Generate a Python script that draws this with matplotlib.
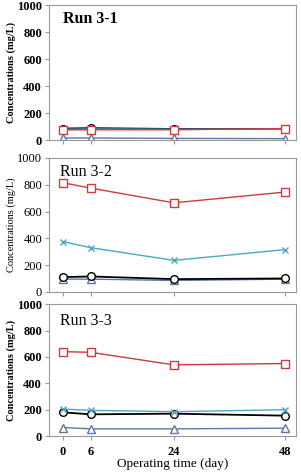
import numpy as np
from matplotlib import pyplot as plt

days = [0, 6, 24, 48]

# Run 3-1
r1_square = [75, 76, 76, 85]
r1_circle = [85, 88, 82, 82]
r1_star = [80, 82, 80, 80]
r1_triangle = [15, 15, 12, 10]

# Run 3-2
r2_square = [815, 775, 665, 745]
r2_star = [375, 330, 235, 315]
r2_circle = [110, 115, 95, 100]
r2_triangle = [95, 95, 85, 95]

# Run 3-3
r3_square = [640, 635, 540, 550]
r3_star = [205, 195, 185, 200]
r3_circle = [180, 165, 170, 155]
r3_triangle = [65, 55, 55, 60]

# name, series, tick weight, title weight, title position
runs = [
    ("Run 3-1", r1_square, r1_star, r1_circle, r1_triangle, "bold", "bold", (0.057, 0.90)),
    ("Run 3-2", r2_square, r2_star, r2_circle, r2_triangle, "normal", "normal", (0.045, 0.895)),
    ("Run 3-3", r3_square, r3_star, r3_circle, r3_triangle, "bold", "normal", (0.045, 0.87)),
]

plt.rcParams["font.family"] = ["Liberation Serif", "DejaVu Serif"]

fig = plt.figure(figsize=(3.01, 4.73), dpi=100)
boxes = [
    [0.163, 0.704, 0.821, 0.285],
    [0.163, 0.383, 0.821, 0.283],
    [0.163, 0.078, 0.821, 0.279],
]

red = "#d03a3a"
cyan = "#4aa8c0"
blue = "#5a78a8"

for box, (name, sq, st, ci, tr, weight, tweight, tpos) in zip(boxes, runs):
    ax = fig.add_axes(box)
    ax.plot(days, tr, color=blue, marker="^", ms=5.5, mfc="white", mec=blue, lw=1)
    ax.plot(days, ci, color="black", marker="o", ms=5.5, mfc="white", mec="black", lw=1.3)
    ax.plot(days, st, color=cyan, marker="x", ms=5, mec=cyan, lw=1)
    ax.plot(days, sq, color=red, marker="s", ms=6, mfc="white", mec=red, lw=1)
    ax.set_xlim(-3, 50.5)
    ax.set_ylim(0, 1000)
    ax.set_yticks([0, 200, 400, 600, 800, 1000])
    ax.set_xticks(days)
    for s in ax.spines.values():
        s.set_color("#999999")
        s.set_linewidth(0.8)
    ax.tick_params(axis="both", length=3, color="#999999", labelsize=9, pad=2)
    for lab in ax.get_yticklabels():
        lab.set_fontweight(weight)
    ax.set_ylabel("Concentrations (mg/L)", fontsize=7.5, fontweight=weight, labelpad=1)
    ax.text(tpos[0], tpos[1], name, transform=ax.transAxes, fontsize=11.5,
            fontweight=tweight, va="center")
    if name != "Run 3-3":
        ax.tick_params(axis="x", labelbottom=False)
    else:
        ax.tick_params(axis="x", pad=4)
        for lab in ax.get_xticklabels():
            lab.set_fontweight("bold")
        ax.set_xlabel("Operating time (day)", fontsize=9.5, labelpad=0)

fig.savefig("out.png", dpi=100)
